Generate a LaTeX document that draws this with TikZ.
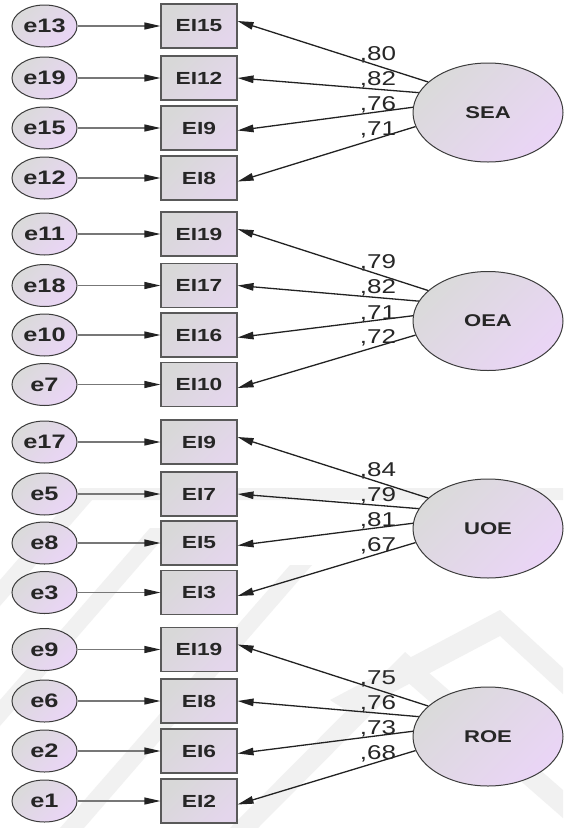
\documentclass[tikz,border=0pt]{standalone}
\usepackage{fontspec}
\setmainfont{Liberation Sans}[FakeStretch=1.3]
\usetikzlibrary{arrows.meta,shapes.geometric}

\definecolor{edgegray}{HTML}{3C3C3C}
\definecolor{pathdark}{HTML}{222222}
\definecolor{errline}{HTML}{777777}
\definecolor{fillgray}{HTML}{DADADA}
\definecolor{filllav}{HTML}{EAD5F6}
\definecolor{boxgray}{HTML}{D8D8D8}
\definecolor{boxlav}{HTML}{E4D6EC}
\definecolor{mark}{HTML}{F1F1F1}

\tikzset{
  errnode/.style={ellipse, draw=edgegray, line width=1pt,
    minimum width=65pt, minimum height=42pt, inner sep=0pt,
    top color=fillgray, bottom color=filllav, shading angle=45,
    font=\fontsize{19.5}{19.5}\selectfont\bfseries, text=black!85},
  itembox/.style={rectangle, draw=edgegray!85, line width=1.1pt,
    minimum width=76pt, minimum height=44pt, inner sep=0pt,
    top color=boxgray, bottom color=boxlav, shading angle=45,
    font=\fontsize{17.5}{17.5}\selectfont\bfseries, text=black!85},
  latent/.style={ellipse, draw=edgegray, line width=1pt,
    minimum width=150pt, minimum height=99pt, inner sep=0pt,
    top color=fillgray, bottom color=filllav, shading angle=45,
    font=\fontsize{17}{17}\selectfont\bfseries, text=black!85},
  coef/.style={font=\fontsize{20}{20}\selectfont, text=black!85, inner sep=0pt},
  errarrow/.style={draw=errline, line width=1.2pt,
    -{Triangle[length=16pt,width=7pt,color=pathdark]}},
  loadarrow/.style={draw=pathdark, line width=1.3pt,
    -{Triangle[length=16pt,width=7.5pt,color=pathdark]}},
  markband/.style={fill=mark, draw=none}
}

\begin{document}
\begin{tikzpicture}[x=1pt,y=-1pt]
\useasboundingbox (0,0) rectangle (563,828);
\fill[white] (0,0) rectangle (563,828);

% faint background emblem: chevron bands
\begin{scope}
  \clip (0,0) rectangle (563,828);
  \fill[markband] (80,488) -- (563,488) -- (563,500) -- (92,500) -- (0,606) -- (0,580) -- cycle;
  \fill[markband] (0,700) -- (150,528) -- (172,528) -- (0,726) -- cycle;
  \fill[markband] (60,828) -- (290,565) -- (312,565) -- (84,828) -- cycle;
  \fill[markband] (230,828) -- (405,652) -- (563,790) -- (563,818) -- (405,680) -- (258,828) -- cycle;
  \fill[markband] (330,700) -- (500,610) -- (563,668) -- (563,694) -- (500,636) -- (352,714) -- cycle;
\end{scope}

% each block: latent factor, its four items and their error terms
\foreach \lat/\ly/\rows [count=\g] in {
  SEA/112.5/{26/EI15/e13,78/EI12/e19,128/EI9/e15,178/EI8/e12},
  OEA/321/{234/EI19/e11,285.5/EI17/e18,335/EI16/e10,384.5/EI10/e7},
  UOE/528.5/{442/EI9/e17,494/EI7/e5,543/EI5/e8,592.5/EI3/e3},
  ROE/736.5/{649.5/EI19/e9,701/EI8/e6,751/EI6/e2,801/EI2/e1}}
{
  \node[latent] (L\g) at (488,\ly) {\lat};
  \foreach \ry/\item/\err [count=\i] in \rows {
    \node[itembox] (B\g-\i) at (199,\ry) {\item};
    \node[errnode] (E\g-\i) at (44.5,\ry) {\err};
    \draw[errarrow] (E\g-\i.east) -- (B\g-\i.west);
  }
  \draw[loadarrow] (L\g.153) -- ([yshift=5pt]B\g-1.east);
  \draw[loadarrow] (L\g.164) -- (B\g-2.east);
  \draw[loadarrow] (L\g.176.5) -- ([yshift=-2.5pt]B\g-3.east);
  \draw[loadarrow] (L\g.191) -- ([yshift=-3.5pt]B\g-4.east);
}

% standardized loadings
\foreach \g/\ly/\a/\b/\c/\d in {1/112.5/80/82/76/71, 2/321/79/82/71/72,
                                 3/528.5/84/79/81/67, 4/736.5/75/76/73/68} {
  \node[coef] (c\g a) at (378,\ly-58) {,\a};
  \node[coef] (c\g b) at (378,\ly-33) {,\b};
  \node[coef] (c\g c) at (378,\ly-7.5) {,\c};
  \node[coef] (c\g d) at (378,\ly+17) {,\d};
}
\end{tikzpicture}
\end{document}
